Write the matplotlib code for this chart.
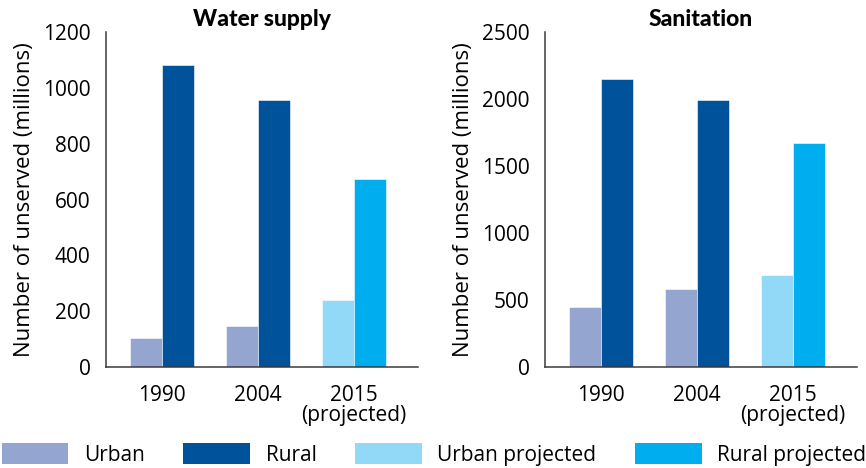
import matplotlib

matplotlib.use("Agg")

import matplotlib.pyplot as plt
from matplotlib.patches import Patch

plt.rcParams["font.family"] = ["Open Sans", "DejaVu Sans"]

# DATA

years = ["1990", "2004", "2015\n(projected)"]

water_urban = [104, 146, 239]
water_rural = [1082, 957, 673]

sanit_urban = [445, 580, 686]
sanit_rural = [2147, 1995, 1669]

legend_labels = ["Urban", "Rural", "Urban projected", "Rural projected"]

C_URBAN = "#94a5d0"
C_RURAL = "#00539b"
C_URBAN_P = "#92d9f7"
C_RURAL_P = "#00aeef"


def draw_panel(ax, urban, rural, ymax, step, title):
    x = list(range(len(years)))
    w = 1 / 3
    # last group is projected -> lighter colours
    urban_cols = [C_URBAN, C_URBAN, C_URBAN_P]
    rural_cols = [C_RURAL, C_RURAL, C_RURAL_P]

    ax.bar([i - w / 2 for i in x], urban, width=w, color=urban_cols,
           edgecolor="white", linewidth=0.4)
    ax.bar([i + w / 2 for i in x], rural, width=w, color=rural_cols,
           edgecolor="white", linewidth=0.4)

    ax.set_xlim(-0.583, 2.667)
    ax.set_ylim(0, ymax)
    ax.set_yticks(range(0, ymax + 1, step))
    ax.set_xticks(x)
    ax.set_xticklabels(years, fontsize=15, linespacing=0.95)
    ax.tick_params(axis="y", labelsize=15, length=0, pad=11)
    ax.tick_params(axis="x", length=0, pad=13)

    for side in ["top", "right"]:
        ax.spines[side].set_visible(False)
    for side in ["left", "bottom"]:
        ax.spines[side].set_color("#3a3a3a")
        ax.spines[side].set_linewidth(1.1)

    ax.set_ylabel("Number of unserved (millions)", fontsize=16, labelpad=6)
    ax.set_title(title, fontsize=16.5, fontweight="black",
                 family=["Lato", "DejaVu Sans"], pad=4)


fig = plt.figure(figsize=(8.66, 4.68), dpi=100)

ax1 = fig.add_axes([0.1224, 0.2158, 0.3603, 0.7158])
ax2 = fig.add_axes([0.6293, 0.2158, 0.3603, 0.7158])

draw_panel(ax1, water_urban, water_rural, 1200, 200, "Water supply")
draw_panel(ax2, sanit_urban, sanit_rural, 2500, 500, "Sanitation")

handles = [Patch(facecolor=c) for c in [C_URBAN, C_RURAL, C_URBAN_P, C_RURAL_P]]
fig.legend(
    handles, legend_labels,
    loc="upper left",
    bbox_to_anchor=(0.002, 0.0534),
    ncol=4,
    frameon=False,
    fontsize=15,
    handlelength=3.2,
    handleheight=1.2,
    handletextpad=0.75,
    columnspacing=1.85,
    borderpad=0.0,
    borderaxespad=0.0,
)

fig.savefig("out.png", dpi=100)
plt.close(fig)
